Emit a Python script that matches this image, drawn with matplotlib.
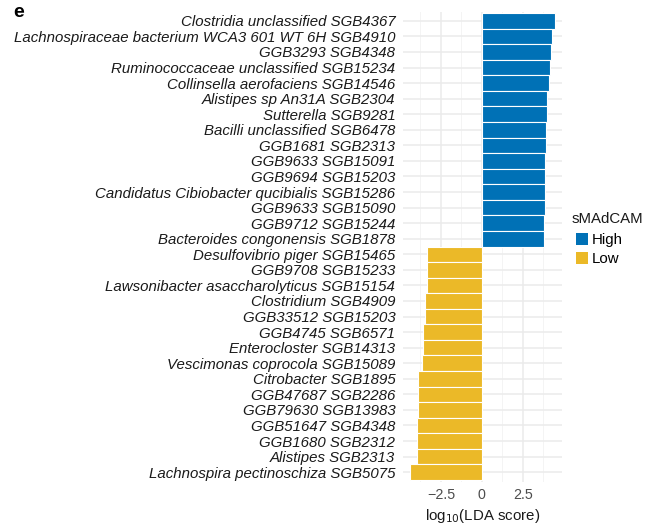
import matplotlib.pyplot as plt
from matplotlib.patches import Patch

plt.rcParams['font.family'] = ['Liberation Sans', 'DejaVu Sans']

# taxa enriched in the high group, top to bottom
high_taxa = ['Clostridia unclassified SGB4367',
             'Lachnospiraceae bacterium WCA3 601 WT 6H SGB4910',
             'GGB3293 SGB4348',
             'Ruminococcaceae unclassified SGB15234',
             'Collinsella aerofaciens SGB14546',
             'Alistipes sp An31A SGB2304',
             'Sutterella SGB9281',
             'Bacilli unclassified SGB6478',
             'GGB1681 SGB2313',
             'GGB9633 SGB15091',
             'GGB9694 SGB15203',
             'Candidatus Cibiobacter qucibialis SGB15286',
             'GGB9633 SGB15090',
             'GGB9712 SGB15244',
             'Bacteroides congonensis SGB1878']
high_lda = [4.44, 4.25, 4.19, 4.13, 4.07, 3.95, 3.95, 3.89, 3.89,
            3.83, 3.83, 3.83, 3.83, 3.77, 3.77]

# taxa enriched in the low group, top to bottom
low_taxa = ['Desulfovibrio piger SGB15465',
            'GGB9708 SGB15233',
            'Lawsonibacter asaccharolyticus SGB15154',
            'Clostridium SGB4909',
            'GGB33512 SGB15203',
            'GGB4745 SGB6571',
            'Enterocloster SGB14313',
            'Vescimonas coprocola SGB15089',
            'Citrobacter SGB1895',
            'GGB47687 SGB2286',
            'GGB79630 SGB13983',
            'GGB51647 SGB4348',
            'GGB1680 SGB2312',
            'Alistipes SGB2313',
            'Lachnospira pectinoschiza SGB5075']
low_lda = [-3.35, -3.35, -3.35, -3.47, -3.47, -3.59, -3.59, -3.65,
           -3.89, -3.89, -3.89, -3.95, -3.95, -3.95, -4.37]

groups = ['High', 'Low']
group_colors = {'High': '#0071B6', 'Low': '#EBB928'}

taxa = high_taxa + low_taxa
scores = high_lda + low_lda
colors = [group_colors['High']] * len(high_lda) + [group_colors['Low']] * len(low_lda)
ypos = list(range(len(taxa)))[::-1]

fig = plt.figure(figsize=(6.51, 5.24), dpi=100)
ax = fig.add_axes([403 / 651, 1 - 481.5 / 524, 159 / 651, 470 / 524])

ax.barh(ypos, scores, height=1.0, color=colors, edgecolor='white', linewidth=0.8, zorder=3)

ax.set_xlim(-4.81, 4.88)
ax.set_ylim(-0.6, len(taxa) - 0.4)
ax.set_yticks(ypos)
ax.set_yticklabels(taxa, fontstyle='italic', fontsize=10.85, color='#1a1a1a')
ax.set_xticks([-2.5, 0, 2.5])
ax.set_xticklabels(['\u22122.5', '0', '2.5'], fontsize=10.3, color='#4d4d4d')
ax.set_xticks([-3.75, -1.25, 1.25, 3.75], minor=True)
ax.tick_params(axis='y', which='both', length=0, pad=5.5)
ax.tick_params(axis='x', which='both', length=0, pad=5)
ax.grid(True, which='major', color='#ebebeb', linewidth=1.1, zorder=0)
ax.grid(True, which='minor', axis='x', color='#f2f2f2', linewidth=0.6, zorder=0)
for s in ax.spines.values():
    s.set_visible(False)
ax.set_xlabel(r'log$_{10}$(LDA score)', fontsize=10.8, color='#1a1a1a', labelpad=3)

# legend: title placed on its own so the keys sit slightly indented
fig.text(572 / 651, 1 - 219 / 524, 'sMAdCAM', fontsize=10.8, color='#1a1a1a',
         ha='left', va='center')
handles = [Patch(facecolor=group_colors[g], edgecolor='none') for g in groups]
fig.legend(handles, groups, loc='upper left',
           bbox_to_anchor=(576 / 651, 1 - 233 / 524), frameon=False,
           fontsize=10.8, handlelength=0.8, handleheight=0.8,
           handletextpad=0.25, labelspacing=0.35, borderpad=0, borderaxespad=0)

fig.text(13 / 651, 1 - 4 / 524, 'e', fontsize=14, fontweight='bold', va='top', ha='left')

fig.savefig('out.png', dpi=100)
